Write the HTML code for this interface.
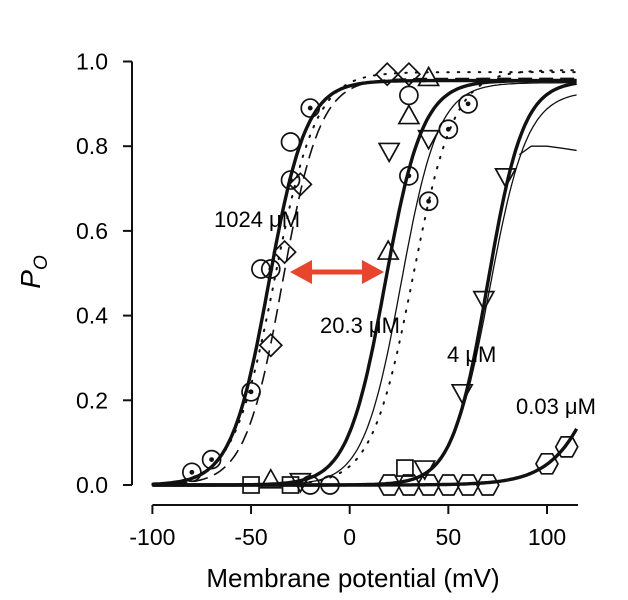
<!DOCTYPE html>
<html><head><meta charset="utf-8">
<style>
html,body{margin:0;padding:0;background:#fff;}
svg{display:block;font-family:"Liberation Sans",sans-serif;}
</style></head>
<body>
<svg id="chart" width="628" height="600" viewBox="0 0 628 600">
<g id="axes"></g>
<g id="curves"></g>
<g id="markers"></g>
<g id="labels">
<text x="214" y="227" font-size="22">1024 μM</text>
<text x="320" y="333" font-size="22">20.3 μM</text>
<text x="447" y="362" font-size="22">4 μM</text>
<text x="516" y="414" font-size="22">0.03 μM</text>
</g>
<g>
<line x1="302" y1="272" x2="372" y2="272" stroke="#e8452c" stroke-width="5"/>
<polygon points="290,272 312,260 312,284" fill="#e8452c"/>
<polygon points="384,272 362,260 362,284" fill="#e8452c"/>
</g>
<text x="353" y="587" font-size="26" text-anchor="middle">Membrane potential (mV)</text>
<text transform="translate(40,272) rotate(-90)" font-size="28" font-style="italic" text-anchor="middle">P<tspan font-size="19" dy="7">O</tspan></text>
</svg>
<script>
const xTicks=[-100,-50,0,50,100];
const yTicks=[0,0.2,0.4,0.6,0.8,1.0];
const yTickLabels=["0.0","0.2","0.4","0.6","0.8","1.0"];
const curveNames=["1024-bold","1024-dashed","1024-dotted","20-bold","20-thin","20-dotted","4-bold","4-thin","003-bold"];
const curveVhalf=[-41,-34,-38,18,26,32,70,71,140];
const curveSlope=[9.5,9.5,10.5,9.5,9.5,10.5,9,9.5,13.7];
const curvePmax=[0.955,0.96,0.975,0.955,0.95,0.98,0.955,0.93,0.955];
const curveStyle=["bold","dashed","dotted","bold","thin","dotted","bold","thin","bold"];
const plateauV=[86,92,100,108,115];
const plateauP=[0.78,0.8,0.8,0.795,0.79];
const markV=[-30,-45,-30,-40,-50,-70,-80,-20,-25,-33,-40,19.5,30,40,50,60,40,20,30,30,19,30,40,79,68,57,-50,-40,-30,-25,-20,-10,20,30,40,50,60,70,28,38,100,110];
const markP=[0.81,0.51,0.72,0.51,0.22,0.06,0.03,0.89,0.71,0.55,0.33,0.55,0.73,0.67,0.84,0.9,0.82,0.79,0.92,0.87,0.97,0.97,0.96,0.73,0.44,0.22,0.0,0.01,0.0,0.01,0.0,0.0,0.0,0.0,0.0,0.0,0.0,0.0,0.04,0.04,0.05,0.09];
const markType=["c","c","cd","cd","cd","cd","cd","cd","d","d","d","t","cd","cd","cd","cd","it","it","c","t","d","d","t","it","it","it","s","t","s","it","c","c","h","h","h","h","h","h","s","it","h","h"];
const NS="http://www.w3.org/2000/svg";
function xs(v){return 349.7+v*1.973;}
function ys(p){return 485-p*423.5;}
function mk(tag,attrs,parent){const e=document.createElementNS(NS,tag);for(const k in attrs)e.setAttribute(k,attrs[k]);parent.appendChild(e);return e;}
const axes=document.getElementById('axes');
let e=mk('line',{x1:132,y1:ys(1),x2:132,y2:ys(0),stroke:'#111','stroke-width':2},axes);


e=mk('line',{x1:xs(-100),y1:505,x2:578,y2:505,stroke:'#111','stroke-width':2},axes);


yTicks.forEach((t,i)=>{
 mk('line',{x1:123,y1:ys(t),x2:132,y2:ys(t),stroke:'#111','stroke-width':2},axes);
 const tx=mk('text',{x:108,y:ys(t)+8,'font-size':23,'text-anchor':'end'},axes);
 tx.textContent=yTickLabels[i];
 
 
});
xTicks.forEach(t=>{
 mk('line',{x1:xs(t),y1:505,x2:xs(t),y2:514,stroke:'#111','stroke-width':2},axes);
 const tx=mk('text',{x:xs(t),y:545,'font-size':23,'text-anchor':'middle'},axes);
 tx.textContent=String(t);
 
 
});
const cg=document.getElementById('curves');
curveNames.forEach((n,i)=>{
 let d='';
 for(let v=-100;v<=115;v+=1){const p=curvePmax[i]/(1+Math.exp(-(v-curveVhalf[i])/curveSlope[i]));d+=(v===-100?'M':'L')+xs(v).toFixed(1)+','+ys(p).toFixed(1);}
 const s=curveStyle[i];
 const a={d:d,fill:'none',stroke:'#111'};
 if(s==='bold')a['stroke-width']=3.4;
 else if(s==='thin')a['stroke-width']=1.3;
 else if(s==='dashed'){a['stroke-width']=1.6;a['stroke-dasharray']='14,7';}
 else {a['stroke-width']=2;a['stroke-dasharray']='1.5,9';a['stroke-linecap']='round';}
 const p=mk('path',a,cg);
 
 
});
let pd='';plateauV.forEach((v,i)=>{pd+=(i?'L':'M')+xs(v)+','+ys(plateauP[i]);});
e=mk('path',{d:pd,fill:'none',stroke:'#111','stroke-width':1.3},cg);


const mg=document.getElementById('markers');
markV.forEach((v,i)=>{
 const x=xs(v),y=ys(markP[i]),t=markType[i];let m;
 const st={fill:'none',stroke:'#111','stroke-width':1.7};
 if(t==='c'||t==='cd'){m=mk('circle',Object.assign({cx:x,cy:y,r:9},st),mg);if(t==='cd')mk('circle',{cx:x,cy:y,r:2.4,fill:'#111'},mg);}
 else if(t==='d')m=mk('polygon',Object.assign({points:`${x},${y-11} ${x+11},${y} ${x},${y+11} ${x-11},${y}`},st),mg);
 else if(t==='t')m=mk('polygon',Object.assign({points:`${x},${y-11} ${x+10},${y+7} ${x-10},${y+7}`},st),mg);
 else if(t==='it')m=mk('polygon',Object.assign({points:`${x},${y+11} ${x+10},${y-7} ${x-10},${y-7}`},st),mg);
 else if(t==='s')m=mk('rect',Object.assign({x:x-8,y:y-8,width:16,height:16},st),mg);
 else m=mk('polygon',Object.assign({points:`${x-11},${y} ${x-5.5},${y-10} ${x+5.5},${y-10} ${x+11},${y} ${x+5.5},${y+10} ${x-5.5},${y+10}`},st),mg);
 
 
});
</script>
</body></html>
